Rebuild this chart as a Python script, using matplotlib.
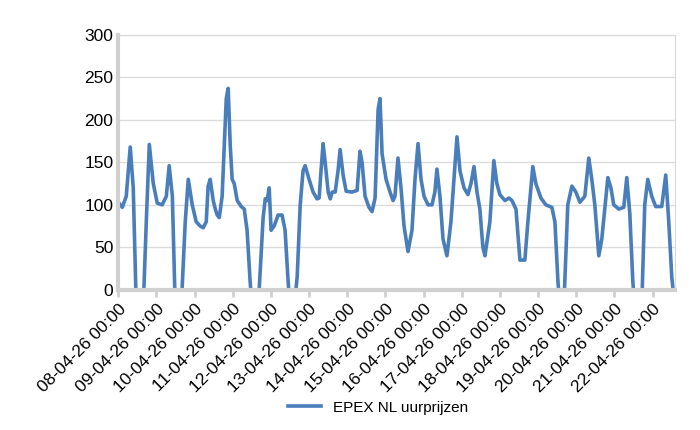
import numpy as np
import matplotlib.pyplot as plt
from matplotlib.lines import Line2D

plt.rcParams['font.family'] = ['Liberation Sans', 'DejaVu Sans']

# ---------------------------- DATA ----------------------------#
# hours since 08-04-26 00:00 and EPEX NL price (EUR/MWh); negatives fall below the axis
hours = [0, 2.5, 5, 7.5, 9.4, 11.3, 15.7, 17.6, 19.5, 22, 24.5, 27.6, 30.2, 32, 34, 35.8,
         39.6, 42.1, 44, 46.5, 49, 51.5, 53.4, 55.3, 56.5, 57.8, 59.7, 61, 62.2, 63.5, 65.3,
         67.9, 69.1, 70.4, 71.6, 72.9, 74.8, 77.3, 79.2, 81, 82.9, 84.2, 88, 89.2, 91.1, 92.4,
         93.6, 94.9, 96.1, 98, 100.5, 103, 104.9, 106.8, 108.1, 110.6, 112.5, 114.4, 116.2,
         117.5, 120, 122.5, 125, 126.3, 127.5, 128.8, 130.1, 132, 133.3, 134.5, 136.4, 138.2,
         139.5, 141.4, 143.3, 147, 150.2, 152, 153.3, 155.2, 157.7, 159.6, 161.5, 163.4, 164.6,
         165.9, 168.4, 170.9, 172.8, 174, 175.9, 177.8, 179.7, 182.2, 184.7, 186.6, 188.5,
         190.4, 192.3, 194.8, 197.3, 199.1, 200.4, 202.3, 204.2, 206.7, 209.2, 211.1, 213,
         214.9, 217.4, 219.9, 221.8, 223.7, 225.6, 227.4, 229.3, 230.6, 233.7, 236.2, 238.1,
         240, 243.2, 245.7, 247.6, 250.1, 252.6, 255.7, 257.6, 260.7, 262.6, 265.8, 268.9,
         272.7, 274.6, 276.5, 277.7, 280.2, 282.7, 285.3, 287.8, 290.3, 293.4, 295.9, 297.8,
         299.7, 302.2, 304.1, 307.9, 309.8, 311.6, 314.8, 317.9, 319.8, 321.7, 323.6, 324.8,
         329.2, 331.1, 333, 335.5, 338, 341.8, 344.3, 346.2, 348.1, 350]
prices = [103, 97, 110, 168, 120, -20, -20, 80, 171, 125, 102, 100, 110, 146, 110, -20,
          -20, 80, 130, 100, 80, 75, 73, 80, 122, 130, 105, 95, 88, 85, 110,
          225, 237, 170, 130, 125, 105, 98, 95, 70, 10, -20, -20, 20, 85, 107,
          105, 120, 70, 75, 88, 88, 70, 10, -20, -20, 15, 100, 140,
          146, 130, 115, 107, 108, 140, 172, 150, 115, 107, 115, 115, 140,
          165, 135, 116, 115, 117, 163, 150, 110, 97, 92, 108, 212, 225,
          160, 130, 115, 105, 110, 155, 120, 75, 45, 70, 130, 172,
          130, 110, 100, 100, 115, 142, 110, 60, 40, 80, 130, 180,
          140, 120, 112, 125, 145, 115, 95, 50, 40, 80, 152, 125,
          112, 105, 108, 105, 95, 35, 35, 80, 145, 125, 108, 100,
          97, 80, 10, -20, -20, 100, 122, 115, 103, 110, 155, 130,
          100, 40, 60, 132, 120, 100, 95, 97, 132, 90, 10, -20,
          -20, 100, 130, 110, 98, 98, 135, 80, 15, -20]
day_labels = ["%02d-04-26 00:00" % d for d in range(8, 23)]

# ---------------------------------- PLOT ----------------------------------#
fig = plt.figure(figsize=(7, 4.3), dpi=100)
ax = fig.add_axes([0.169, 0.326, 0.795, 0.593])
ax.plot(hours, prices, color="#4a7ebb", lw=2.6, solid_joinstyle="round")
ax.set_xlim(0, 350)
ax.set_ylim(0, 300)
ax.set_yticks(range(0, 301, 50))
ax.set_xticks(np.arange(len(day_labels)) * 24)
ax.set_xticklabels(day_labels, rotation=45, ha="right", rotation_mode="anchor")
ax.tick_params(axis="both", labelsize=12.5, color="#d0d0d0", width=2, length=5)
ax.tick_params(axis="y", length=0)
ax.grid(axis="y", color="#dcdcdc", lw=1)
for side in ["top", "right"]:
    ax.spines[side].set_color("#d8d8d8")
for side in ["left", "bottom"]:
    ax.spines[side].set_color("#d0d0d0")
    ax.spines[side].set_linewidth(3)

handle = Line2D([], [], color="#4a7ebb", lw=2.6)
fig.legend([handle], ["EPEX NL uurprijzen"], loc="center", bbox_to_anchor=(0.54, 0.052),
           frameon=False, fontsize=11, handlelength=2.2)

fig.savefig("out.png", dpi=100)
